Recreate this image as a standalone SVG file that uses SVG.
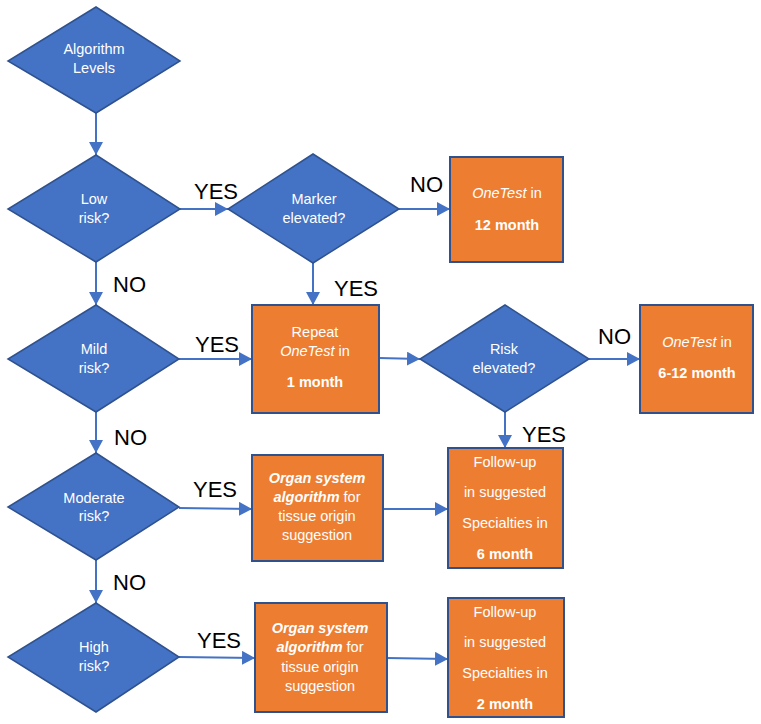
<svg xmlns="http://www.w3.org/2000/svg" width="761" height="724" viewBox="0 0 761 724">
<style>
.dia{fill:#4472C4;stroke:#2F528F;stroke-width:1.5}
.box{fill:#ED7D31;stroke:#2F528F;stroke-width:2}
.nt{font-family:"Liberation Sans",Arial,sans-serif;font-size:14.5px;fill:#FFFFFF;text-anchor:middle}
.b{font-weight:bold}
.i{font-style:italic}
.lbl{font-family:"Liberation Sans",Arial,sans-serif;font-size:22px;fill:#000000}
.con{stroke:#4472C4;stroke-width:2;fill:none;marker-end:url(#ah)}
</style>
<defs>
<marker id="ah" markerUnits="userSpaceOnUse" markerWidth="14" markerHeight="14" refX="13" refY="7" orient="auto">
<path d="M0,0 L13,7 L0,14 z" fill="#4472C4"/>
</marker>
</defs>
<rect width="761" height="724" fill="#FFFFFF"/>
<g id="connectors">
<line class="con" x1="96" y1="113" x2="96" y2="155"/>
<line class="con" x1="180" y1="209" x2="228" y2="209"/>
<line class="con" x1="399" y1="209" x2="450" y2="209"/>
<line class="con" x1="96" y1="262" x2="96" y2="305"/>
<line class="con" x1="313" y1="263" x2="313" y2="305"/>
<line class="con" x1="179" y1="359" x2="252" y2="359"/>
<line class="con" x1="379" y1="358" x2="420" y2="359"/>
<line class="con" x1="589" y1="359" x2="640" y2="359"/>
<line class="con" x1="96" y1="412" x2="96" y2="453"/>
<line class="con" x1="505" y1="412" x2="505" y2="448"/>
<line class="con" x1="179" y1="508" x2="252" y2="509"/>
<line class="con" x1="383" y1="509" x2="448" y2="509"/>
<line class="con" x1="96" y1="560" x2="96" y2="603"/>
<line class="con" x1="179" y1="657" x2="255" y2="658"/>
<line class="con" x1="387" y1="658" x2="448" y2="659"/>
</g>
<g id="labels">
<text class="lbl" x="194" y="199">YES</text>
<text class="lbl" x="410" y="192">NO</text>
<text class="lbl" x="113" y="292">NO</text>
<text class="lbl" x="334" y="296">YES</text>
<text class="lbl" x="195" y="352">YES</text>
<text class="lbl" x="598" y="344">NO</text>
<text class="lbl" x="114" y="445">NO</text>
<text class="lbl" x="522" y="442">YES</text>
<text class="lbl" x="193" y="497">YES</text>
<text class="lbl" x="113" y="590">NO</text>
<text class="lbl" x="197" y="648">YES</text>
</g>
<g id="algorithm-levels">
<polygon class="dia" points="96,7 180,61 96,113 8,61"/>
<text class="nt" x="94" y="54">Algorithm</text>
<text class="nt" x="94" y="73">Levels</text>
</g>
<g id="low-risk">
<polygon class="dia" points="96,155 180,209 96,262 8,209"/>
<text class="nt" x="94" y="204">Low</text>
<text class="nt" x="94" y="223">risk?</text>
</g>
<g id="marker-elevated">
<polygon class="dia" points="313,154 399,209 313,263 228,209"/>
<text class="nt" x="314" y="204">Marker</text>
<text class="nt" x="314" y="223">elevated?</text>
</g>
<g id="onetest-12">
<rect class="box" x="450" y="157" width="113" height="105"/>
<text class="nt" x="507" y="198"><tspan class="i">OneTest</tspan> in</text>
<text class="nt b" x="507" y="230">12 month</text>
</g>
<g id="mild-risk">
<polygon class="dia" points="96,305 179,359 96,412 8,359"/>
<text class="nt" x="94" y="354">Mild</text>
<text class="nt" x="94" y="373">risk?</text>
</g>
<g id="repeat-onetest">
<rect class="box" x="252" y="305" width="127" height="108"/>
<text class="nt" x="315" y="337">Repeat</text>
<text class="nt" x="315" y="356"><tspan class="i">OneTest</tspan> in</text>
<text class="nt b" x="315" y="387">1 month</text>
</g>
<g id="risk-elevated">
<polygon class="dia" points="505,305 589,359 505,412 420,359"/>
<text class="nt" x="504" y="354">Risk</text>
<text class="nt" x="504" y="373">elevated?</text>
</g>
<g id="onetest-6-12">
<rect class="box" x="640" y="305" width="113" height="108"/>
<text class="nt" x="697" y="347"><tspan class="i">OneTest</tspan> in</text>
<text class="nt b" x="697" y="378">6-12 month</text>
</g>
<g id="moderate-risk">
<polygon class="dia" points="96,453 179,507 96,560 8,507"/>
<text class="nt" x="94" y="503">Moderate</text>
<text class="nt" x="94" y="521">risk?</text>
</g>
<g id="organ-moderate">
<rect class="box" x="252" y="455" width="131" height="106"/>
<text class="nt b i" x="317" y="483">Organ system</text>
<text class="nt" x="317" y="502"><tspan class="b i">algorithm</tspan> for</text>
<text class="nt" x="317" y="521">tissue origin</text>
<text class="nt" x="317" y="540">suggestion</text>
</g>
<g id="followup-6">
<rect class="box" x="448" y="448" width="115" height="120"/>
<text class="nt" x="505" y="467">Follow-up</text>
<text class="nt" x="505" y="497">in suggested</text>
<text class="nt" x="505" y="528">Specialties in</text>
<text class="nt b" x="505" y="559">6 month</text>
</g>
<g id="high-risk">
<polygon class="dia" points="96,603 179,657 96,712 8,657"/>
<text class="nt" x="94" y="652">High</text>
<text class="nt" x="94" y="671">risk?</text>
</g>
<g id="organ-high">
<rect class="box" x="255" y="603" width="132" height="109"/>
<text class="nt b i" x="320" y="633">Organ system</text>
<text class="nt" x="320" y="652"><tspan class="b i">algorithm</tspan> for</text>
<text class="nt" x="320" y="672">tissue origin</text>
<text class="nt" x="320" y="691">suggestion</text>
</g>
<g id="followup-2">
<rect class="box" x="448" y="598" width="116" height="119"/>
<text class="nt" x="505" y="617">Follow-up</text>
<text class="nt" x="505" y="647">in suggested</text>
<text class="nt" x="505" y="678">Specialties in</text>
<text class="nt b" x="505" y="709">2 month</text>
</g>
</svg>
